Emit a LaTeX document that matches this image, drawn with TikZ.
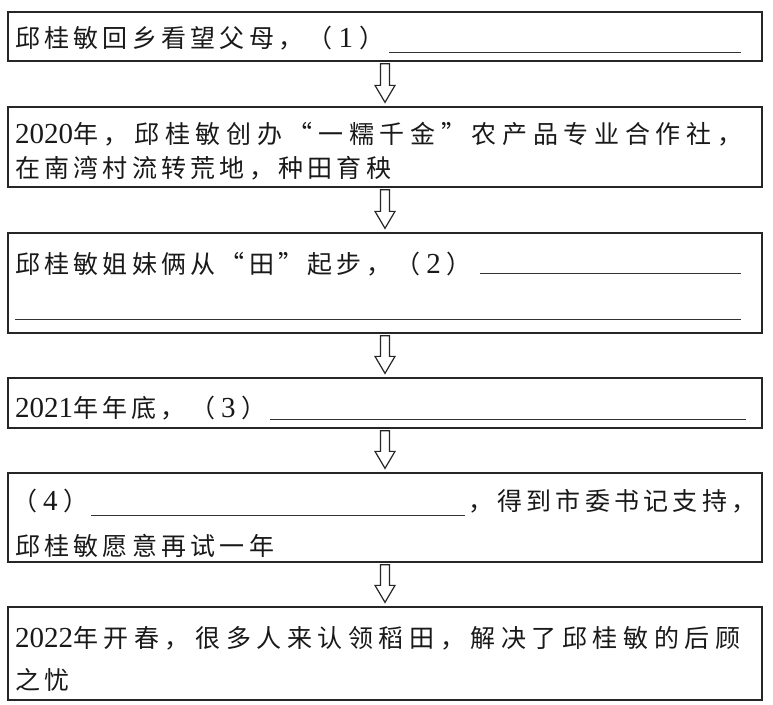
\documentclass[tikz,border=0pt]{standalone}
\usepackage{fontspec}
\setmainfont{Liberation Serif}
\newfontfamily\cjk[LetterSpace=17]{Noto Sans CJK SC}
\usetikzlibrary{calc}
\newcommand\dg[1]{{\fontsize{29}{30}\selectfont\rmfamily #1}}
\newcommand\pn[1]{（\hspace{6pt}\dg{#1}\hspace{6pt}）}
\makeatletter
\newcommand\spreadtext[1]{\@tfor\sp@c:=#1\do{\sp@c\hfill}\unskip}
\makeatother
\newcommand\flowarrow[2]{%
  \draw[arr] ($(#1.south)+(-4.5,2)$) -- ($(#1.south)+(4.5,2)$) -- ($(#2.north)+(4.5,-21)$)
   -- ($(#2.north)+(10,-21)$) -- ($(#2.north)+(0,-4)$) -- ($(#2.north)+(-10,-21)$)
   -- ($(#2.north)+(-4.5,-21)$) -- cycle;}
\begin{document}
\begin{tikzpicture}[x=1pt,y=-1pt,
 box/.style={draw=black!85,line width=1.3pt,rectangle,minimum width=754pt,inner sep=0pt},
 txt/.style={anchor=base west,inner sep=0pt,text=black!90,font=\fontsize{25}{30}\selectfont\cjk},
 blank/.style={line width=0.9pt,draw=black!80},
 arr/.style={draw=black!85,line width=1.2pt,line join=miter,fill=white}]
\useasboundingbox (0,0) rectangle (773,704);
\fill[white] (0,0) rectangle (773,704);
% boxes
\node[box,minimum height=49pt] (b1) at (385,36.5) {};
\node[box,minimum height=80pt] (b2) at (385,147) {};
\node[box,minimum height=100pt] (b3) at (385,283) {};
\node[box,minimum height=50pt] (b4) at (385,403) {};
\node[box,minimum height=89pt] (b5) at (385,517.5) {};
\node[box,minimum height=93pt] (b6) at (385,653.5) {};
% arrows
\flowarrow{b1}{b2}
\flowarrow{b2}{b3}
\flowarrow{b3}{b4}
\flowarrow{b4}{b5}
\flowarrow{b5}{b6}
% texts
\node[txt] (t1) at (15,47) {邱桂敏回乡看望父母，\pn{1}};
\node[txt] (t2a) at (15,143) {\makebox[727pt][s]{\spreadtext{{\dg{2020}年}，邱桂敏创办“一糯千金”农产品专业合作社，}}};
\node[txt] (t2b) at (15,177) {在南湾村流转荒地，种田育秧};
\node[txt] (t3a) at (15,273) {邱桂敏姐妹俩从“田”起步，\pn{2}};
\node[txt] (t4) at (15,417) {\dg{2021}年年底，\pn{3}};
\node[txt] (t5a) at (12,510) {\pn{4}};
\node[txt] (t5b) at (468,510) {，得到市委书记支持，};
\node[txt] (t5c) at (15,555) {邱桂敏愿意再试一年};
\node[txt] (t6a) at (15,647) {\makebox[725pt][s]{\spreadtext{{\dg{2022}年}开春，很多人来认领稻田，解决了邱桂敏的后顾}}};
\node[txt] (t6b) at (15,689) {之忧};
% blanks
\draw[blank] (389,52) -- (741,52);
\draw[blank] (480,273) -- (741,273);
\draw[blank] (15,319) -- (741,319);
\draw[blank] (270,419) -- (746,419);
\draw[blank] (91,515) -- (465,515);
\end{tikzpicture}
\end{document}
